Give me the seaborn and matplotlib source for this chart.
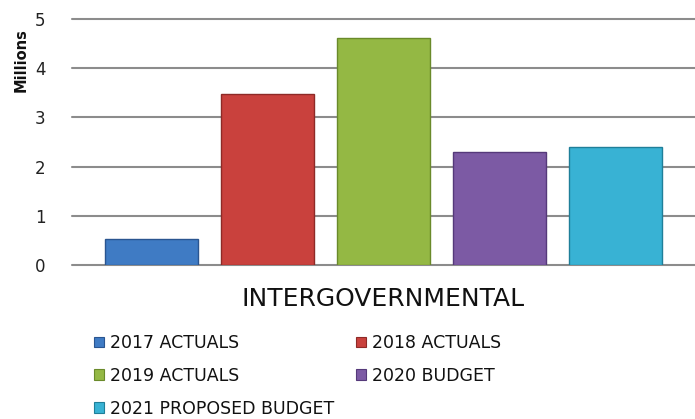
import matplotlib
matplotlib.use("Agg")
import matplotlib.pyplot as plt
import seaborn as sns
import pandas as pd
from matplotlib.patches import Patch

category = ["INTERGOVERNMENTAL"]
series = ["2017 ACTUALS", "2018 ACTUALS", "2019 ACTUALS", "2020 BUDGET", "2021 PROPOSED BUDGET"]
values = [0.52, 3.47, 4.61, 2.29, 2.39]
colors = ["#3F7BC4", "#C9413D", "#94B844", "#7C5AA4", "#38B2D4"]
edges = ["#2A5590", "#8E2A27", "#6A8A2A", "#55397A", "#1F7F99"]
yticks = [0, 1, 2, 3, 4, 5]

df = pd.DataFrame({"cat": category * len(series), "series": series, "value": values})

sns.set_style("white")
plt.rcParams["font.family"] = ["DejaVu Sans"]

fig = plt.figure(figsize=(6.95, 4.19), dpi=100)
ax = fig.add_axes([72 / 695, (419 - 265) / 419, 1 - 72 / 695, (265 - 19) / 419])

sns.barplot(data=df, x="cat", y="value", hue="series", hue_order=series,
            palette=colors, saturation=1, width=0.931, gap=0.2, ax=ax,
            legend=False, errorbar=None, zorder=3)
for patch, ec in zip(ax.patches, edges):
    patch.set_edgecolor(ec)
    patch.set_linewidth(1.0)

ax.set_ylim(0, 5)
ax.set_xlim(-0.5, 0.5)
ax.set_yticks(yticks)
ax.set_yticklabels([str(t) for t in yticks])
ax.yaxis.grid(True, color="#8C8C8C", linewidth=1.5, zorder=0)
for gl in ax.get_ygridlines():
    gl.set_clip_on(False)
ax.set_axisbelow(True)
for s in ax.spines.values():
    s.set_visible(False)
ax.tick_params(axis="y", length=0, pad=19, labelsize=12, colors="#222222")
ax.tick_params(axis="x", length=0, pad=16, labelsize=18, colors="#111111")
ax.set_xlabel("")
ax.set_ylabel("")

fig.text(21 / 695, 1 - 60 / 419, "Millions", rotation=90, fontsize=10.5,
         fontweight="bold", ha="center", va="center", color="#111111")

handles = [Patch(facecolor=c, edgecolor=e, linewidth=0.8) for c, e in zip(colors, edges)]
order = [0, 2, 4, 1, 3]
leg = fig.legend([handles[i] for i in order], [series[i] for i in order],
                 loc="upper left", bbox_to_anchor=(94 / 695, 1 - 334 / 419),
                 ncol=2, frameon=False, fontsize=12.5, handlelength=0.55,
                 handleheight=0.55, handletextpad=0.35, columnspacing=1.3,
                 labelspacing=0.85, borderaxespad=0, borderpad=0)
for t in leg.get_texts():
    t.set_color("#111111")

fig.savefig("out.png", dpi=100)
